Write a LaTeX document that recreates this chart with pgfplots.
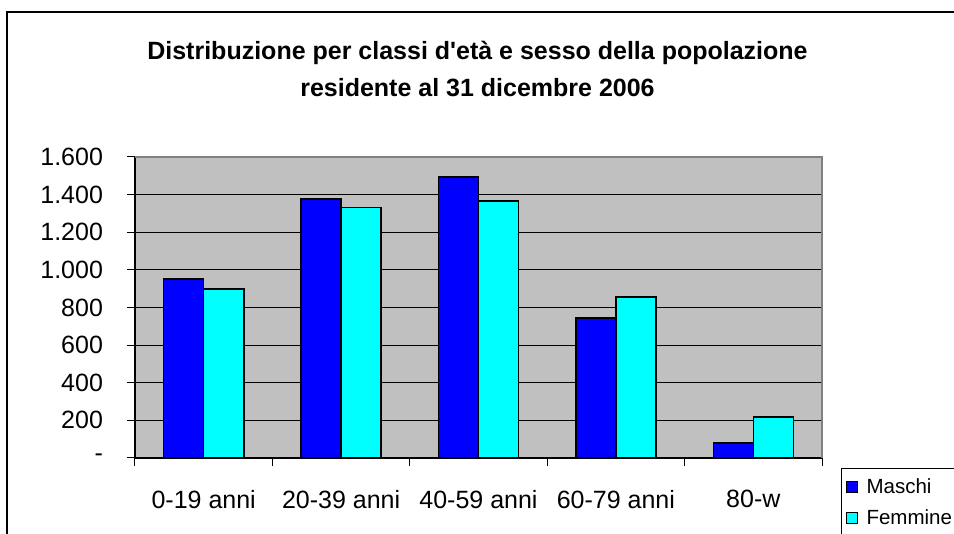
\documentclass[border=0pt]{standalone}
\usepackage{fontspec}
\setmainfont{Liberation Sans}
\usepackage{pgfplots}
\pgfplotsset{compat=1.18}
\definecolor{plotgray}{HTML}{C0C0C0}
\definecolor{maschi}{HTML}{0000FF}
\definecolor{femmine}{HTML}{00FFFF}
\begin{document}
\begin{tikzpicture}
\useasboundingbox (0,0) rectangle (477pt,267pt);
\clip (0,0) rectangle (477pt,267pt);
\begin{scope}[overlay]
\fill[white] (0,0) rectangle (477pt,267pt);
\draw[black, line width=0.7pt] (3.5pt,-10pt) rectangle (500pt,261pt);
\node[font=\bfseries\fontsize{12.5}{18.5}\selectfont, align=center] at (238.75pt,232.5pt) {Distribuzione per classi d\textquotesingle età e sesso della popolazione\\residente al 31 dicembre 2006};
\begin{axis}[
 at={(67.5pt,38pt)}, anchor=south west,
 scale only axis, width=343.5pt, height=150.5pt,
 xmin=-0.5, xmax=4.5, ymin=0, ymax=1600,
 ybar=0pt, bar width=20pt,
 clip=false,
 axis background/.style={fill=plotgray},
 axis x line*=bottom, axis y line*=left,
 axis line style={black, line width=0.6pt, -},
 xtick={-0.5,0.5,1.5,2.5,3.5,4.5},
 x tick label as interval,
 xticklabels={0-19 anni,20-39 anni,40-59 anni,60-79 anni,80-w},
 ytick={0,200,...,1600},
 yticklabels={-,200,400,600,800,1.000,1.200,1.400,1.600},
 ymajorgrids, grid style={black, line width=0.5pt},
 tick align=outside, major tick length=4pt,
 tick style={black, line width=0.5pt},
 ticklabel style={font=\fontsize{12.5}{15}\selectfont},
 yticklabel style={xshift=-8.5pt},
 xticklabel style={yshift=-8.5pt},
 /pgf/number format/assume math mode=true,
 legend style={at={(1.0277,-0.033)}, anchor=north west, draw=black, line width=0.5pt,
   font=\fontsize{10.25}{12}\selectfont, cells={anchor=west}, row sep=2.5pt,
   column sep=2.5pt, inner xsep=2pt, inner ysep=3pt},
 legend image code/.code={\draw[#1, line width=0.5pt] (0pt,-2.75pt) rectangle (5.5pt,2.75pt);},
]
\addplot[fill=maschi, draw=black, line width=0.8pt] coordinates {(0,950) (1,1376) (2,1495) (3,745) (4,81)};
\addplot[fill=femmine, draw=black, line width=0.8pt] coordinates {(0,899) (1,1331) (2,1367) (3,856) (4,218)};
\legend{Maschi,Femmine}
\draw[gray, line width=0.7pt] (rel axis cs:0,1) -- (rel axis cs:1,1) -- (rel axis cs:1,0);
\end{axis}
\end{scope}
\end{tikzpicture}
\end{document}
